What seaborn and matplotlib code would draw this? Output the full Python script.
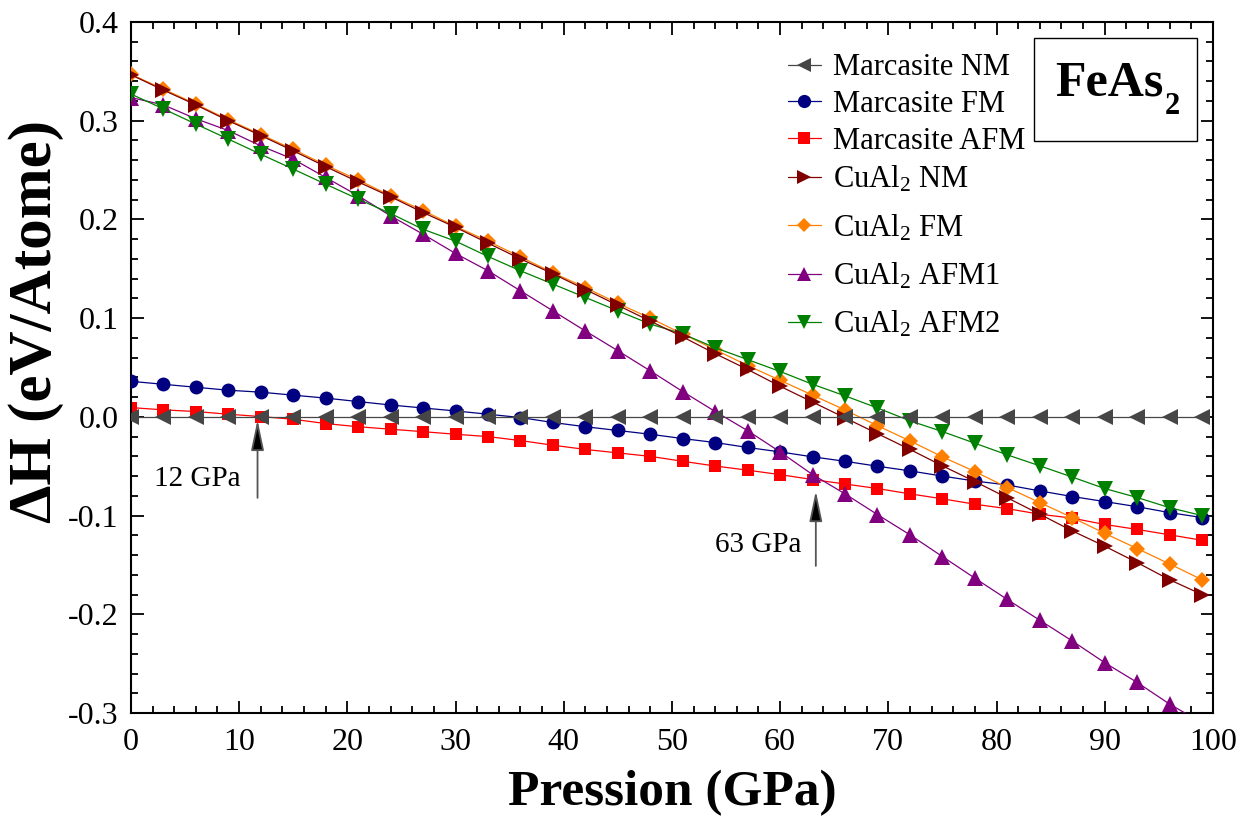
import numpy as np
import pandas as pd
import matplotlib
matplotlib.use("Agg")
import matplotlib.pyplot as plt
from matplotlib.ticker import MultipleLocator, FormatStrFormatter
from matplotlib.patches import Rectangle
import seaborn as sns

# ---------------- data ----------------
pressure = list(range(0, 100, 3))  # 0..99 GPa

marcasite_nm = [0.0] * 34
marcasite_fm = [0.036, 0.033, 0.030, 0.027, 0.025, 0.022, 0.019, 0.0155, 0.012, 0.009,
                0.006, 0.0027, -0.0007, -0.0057, -0.010, -0.0138, -0.0176, -0.022, -0.026, -0.031,
                -0.0355, -0.0405, -0.045, -0.050, -0.0547, -0.060, -0.065, -0.069, -0.075, -0.0807,
                -0.0858, -0.091, -0.097, -0.102]
marcasite_afm = [0.0094, 0.0071, 0.0054, 0.0027, 0.0003, -0.0024, -0.0068, -0.010, -0.0125, -0.015,
                 -0.0176, -0.020, -0.024, -0.0287, -0.033, -0.0365, -0.040, -0.045, -0.0498, -0.054,
                 -0.0585, -0.0635, -0.068, -0.0726, -0.078, -0.083, -0.0885, -0.093, -0.0986, -0.1026,
                 -0.109, -0.114, -0.1195, -0.125]
cual2_nm = [0.3465, 0.331, 0.316, 0.300, 0.285, 0.2695, 0.2535, 0.238, 0.223, 0.207,
            0.192, 0.176, 0.160, 0.145, 0.129, 0.113, 0.097, 0.081, 0.064, 0.048,
            0.031, 0.015, -0.001, -0.017, -0.033, -0.0496, -0.0655, -0.082, -0.0986, -0.1155,
            -0.131, -0.1476, -0.165, -0.180]
cual2_fm = [0.347, 0.332, 0.317, 0.301, 0.286, 0.271, 0.255, 0.240, 0.224, 0.209,
            0.193, 0.178, 0.162, 0.146, 0.131, 0.115, 0.100, 0.084, 0.068, 0.052,
            0.037, 0.022, 0.007, -0.009, -0.0243, -0.0405, -0.0554, -0.0716, -0.0868, -0.102,
            -0.118, -0.1334, -0.149, -0.165]
cual2_afm1 = [0.3235, 0.316, 0.302, 0.290, 0.2745, 0.261, 0.2425, 0.224, 0.2036, 0.185,
              0.1655, 0.148, 0.1277, 0.1074, 0.087, 0.067, 0.0466, 0.0256, 0.0054, -0.014,
              -0.0355, -0.0585, -0.078, -0.099, -0.1195, -0.1415, -0.1634, -0.185, -0.206, -0.227,
              -0.249, -0.269, -0.291, -0.31]
cual2_afm2 = [0.327, 0.312, 0.2966, 0.2814, 0.266, 0.251, 0.2357, 0.2206, 0.206, 0.190,
              0.178, 0.1625, 0.148, 0.1345, 0.121, 0.1074, 0.094, 0.084, 0.070, 0.058,
              0.046, 0.033, 0.0213, 0.009, -0.004, -0.0149, -0.0267, -0.0385, -0.0496, -0.061,
              -0.0726, -0.0817, -0.092, -0.100]

labels = ["Marcasite NM", "Marcasite FM", "Marcasite AFM",
          r"CuAl$_{\mathrm{2}}$ NM", r"CuAl$_{\mathrm{2}}$ FM",
          r"CuAl$_{\mathrm{2}}$ AFM1", r"CuAl$_{\mathrm{2}}$ AFM2"]
series = [marcasite_nm, marcasite_fm, marcasite_afm, cual2_nm, cual2_fm, cual2_afm1, cual2_afm2]

x_ticks = list(range(0, 101, 10))
y_ticks = [-0.3, -0.2, -0.1, 0.0, 0.1, 0.2, 0.3, 0.4]

# ---------------- style ----------------
colors = ["#464646", "#000080", "#FF0000", "#800000", "#FF8000", "#800080", "#008000"]
markers = ["<", "o", "s", ">", "D", "^", "v"]
msizes = [11.0, 10.0, 8.5, 11.0, 8.0, 11.0, 11.0]
zorders = [8, 3, 2, 7, 4, 5, 6]

sns.set_style("ticks")
plt.rcParams["font.family"] = ["Liberation Serif", "DejaVu Serif"]
plt.rcParams["mathtext.fontset"] = "custom"
plt.rcParams["mathtext.rm"] = "Liberation Serif"
plt.rcParams["mathtext.it"] = "Liberation Serif:italic"
plt.rcParams["mathtext.bf"] = "Liberation Serif:bold"
plt.rcParams["axes.unicode_minus"] = False
for k in ["text.color", "axes.labelcolor", "xtick.color", "ytick.color", "axes.edgecolor"]:
    plt.rcParams[k] = "black"

fig = plt.figure(figsize=(12.53, 8.36), dpi=100)
ax = fig.add_axes([0.1045, 0.1471, 0.8635, 0.8266])

rows = []
for lab, vals in zip(labels, series):
    for p, v in zip(pressure, vals):
        rows.append({"P": p, "dH": v, "phase": lab})
df = pd.DataFrame(rows)

for lab, c, m, ms, z in zip(labels, colors, markers, msizes, zorders):
    sub = df[df["phase"] == lab]
    sns.lineplot(data=sub, x="P", y="dH", ax=ax, color=c, marker=m, markersize=ms,
                 markeredgewidth=0, linewidth=0.9, label=lab, zorder=z,
                 estimator=None, sort=False, legend=False)

ax.set_xlim(0, 100)
ax.set_ylim(-0.3, 0.4)
ax.set_xticks(x_ticks)
ax.set_yticks(y_ticks)
ax.xaxis.set_minor_locator(MultipleLocator(2))
ax.yaxis.set_minor_locator(MultipleLocator(0.02))
ax.yaxis.set_major_formatter(FormatStrFormatter("%.1f"))
ax.tick_params(which="both", direction="in", top=True, right=True, width=1.3, colors="black")
ax.tick_params(which="major", length=9, labelsize=23)
ax.tick_params(which="minor", length=5)
ax.tick_params(axis="x", which="major", pad=11)
ax.tick_params(axis="y", which="major", pad=9)
for s in ax.spines.values():
    s.set_linewidth(1.5)
    s.set_color("black")

ax.set_xlabel("Pression (GPa)", fontsize=37, fontweight="bold")
ax.set_ylabel("ΔH (eV/Atome)", fontsize=44, fontweight="bold")
ax.xaxis.set_label_coords(0.5, -0.082)
ax.yaxis.set_label_coords(-0.062, 0.566)

# legend: two blocks (plain labels / labels with subscripts)
handles = ax.get_lines()
h1, l1 = handles[:3], labels[:3]
h2, l2 = handles[3:7], labels[3:]
leg_kw = dict(loc="upper left", frameon=False, fontsize=22, handlelength=1.1,
              handletextpad=0.38, borderpad=0, borderaxespad=0, markerscale=0.95)
leg1 = ax.legend(h1, l1, bbox_to_anchor=(0.607, 0.9547), labelspacing=0.25, **leg_kw)
ax.add_artist(leg1)
leg2 = ax.legend(h2, l2, bbox_to_anchor=(0.607, 0.794), labelspacing=0.58, **leg_kw)

# FeAs2 box
ax.add_patch(Rectangle((0.8346, 0.828), 0.1505, 0.149, transform=ax.transAxes,
                       fill=True, facecolor="white", edgecolor="black", linewidth=1.0, zorder=9))
t = ax.text(0.8545, 0.893, "FeAs", transform=ax.transAxes, fontsize=36,
            fontweight="bold", ha="left", va="baseline", zorder=10)
ax.annotate("2", xy=(1.0, 0.0), xycoords=t, xytext=(1, -5), textcoords="offset points",
            fontsize=22, fontweight="bold", ha="left", va="baseline", zorder=10)

# annotations
arrow_props = dict(arrowstyle="-|>,head_length=0.85,head_width=0.18", ec="#555555",
                   fc="black", lw=1.3, mutation_scale=22, shrinkA=0, shrinkB=0)
ax.annotate("", xy=(11.7, -0.003), xytext=(11.7, -0.082), arrowprops=arrow_props, zorder=9)
ax.text(6.15, -0.063, "12 GPa", fontsize=21, ha="center", va="center")
ax.annotate("", xy=(63.3, -0.075), xytext=(63.3, -0.151), arrowprops=arrow_props, zorder=9)
ax.text(58.0, -0.130, "63 GPa", fontsize=21, ha="center", va="center")

fig.savefig("out.png", dpi=100)
